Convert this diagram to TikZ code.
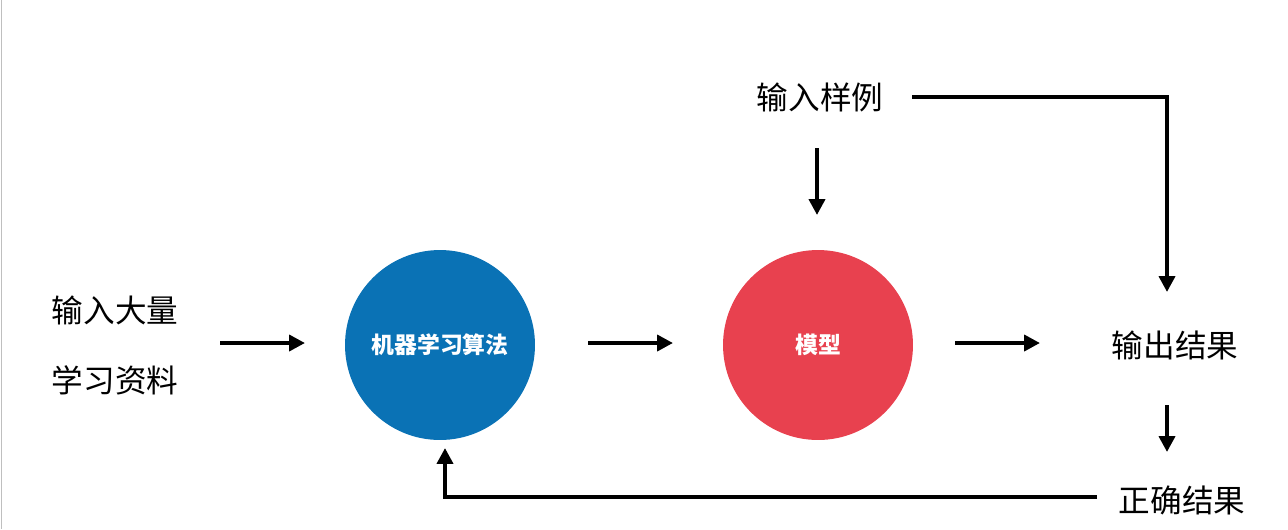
\documentclass[tikz,border=0pt]{standalone}
\usepackage{fontspec}
\newfontfamily\cjk{Noto Sans CJK SC}
\usetikzlibrary{arrows.meta}
\definecolor{cblue}{HTML}{0A72B5}
\definecolor{cred}{HTML}{E8414F}
\begin{document}
\begin{tikzpicture}[x=0.02cm,y=-0.02cm,
  lbl/.style={font=\cjk\fontsize{18}{21}\selectfont},
  circ/.style={circle,minimum size=3.8cm,inner sep=0pt,text=white,font=\cjk\bfseries\fontsize{13}{15}\selectfont},
  arr/.style={line width=2.2pt,-{Triangle[length=9pt,width=9pt]}}]
\useasboundingbox (0,0) rectangle (1288,529);
\draw[gray!50] (1,0) -- (1,529);
\node[lbl] (in1) at (115,310) {输入大量};
\node[lbl] (in2) at (115,380) {学习资料};
\node[circ,fill=cblue] (ml) at (440,345) {机器学习算法};
\node[circ,fill=cred] (mod) at (818,345) {模型};
\node[lbl] (out) at (1175,345) {输出结果};
\node[lbl] (ex) at (820,97) {输入样例};
\node[lbl] (ok) at (1182,500) {正确结果};
\draw[arr] (220,343) -- (305,343);
\draw[arr] (588,343) -- (673,343);
\draw[arr] (955,343) -- (1040,343);
\draw[arr] (817,148) -- (817,215);
\draw[arr] (912,97) -- (1167,97) -- (1167,292);
\draw[arr] (1167,405) -- (1167,452);
\draw[arr] (1097,497) -- (445,497) -- (445,448);
\end{tikzpicture}
\end{document}
